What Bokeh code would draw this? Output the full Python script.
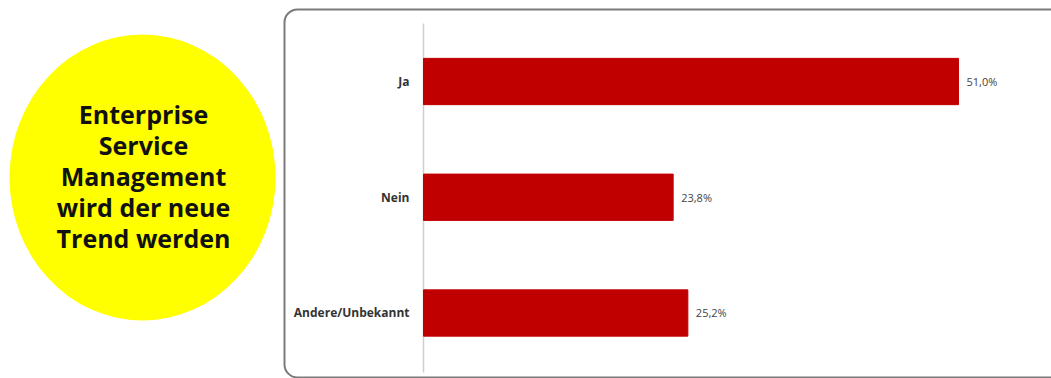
from bokeh.plotting import figure
from bokeh.layouts import row
from bokeh.models import Range1d, BoxAnnotation, ColumnDataSource
from bokeh.core.properties import value
from bokeh.embed import file_html
from bokeh.resources import INLINE

# ---- data ----
categories = ["Ja", "Nein", "Andere/Unbekannt"]
shares = [51.0, 23.8, 25.2]
value_labels = [f"{v:.1f}".replace(".", ",") + "%" for v in shares]
title_lines = ["Enterprise", "Service", "Management", "wird der neue", "Trend werden"]

H = 378
LW, RW = 282, 769

# ---- left panel: yellow ellipse with statement ----
left = figure(width=LW, height=H, output_backend="svg", toolbar_location=None,
              x_range=Range1d(0, LW), y_range=Range1d(H, 0),
              x_axis_location=None, y_axis_location=None, min_border=0)
left.outline_line_color = None
left.grid.visible = False
left.ellipse(x=[142], y=[177], width=[266], height=[286], fill_color="#FFFF00",
             line_color=None)
ty = [113 + 31 * i for i in range(len(title_lines))]
left.text(x=[143] * len(title_lines), y=ty, text=title_lines,
          text_align="center", text_baseline="middle",
          text_font=value("Open Sans"), text_font_style="bold",
          text_font_size="25px", text_color="#111111")

# ---- right panel: bar chart ----
k = 10.49            # px per percent
x0px = 423 - LW      # where 0 % sits inside right figure
xr = Range1d(-x0px / k, (RW - x0px) / k)
yr = Range1d(-0.066, 3.2)
p = figure(width=RW, height=H, output_backend="svg", toolbar_location=None,
           x_range=xr, y_range=yr, x_axis_location=None, y_axis_location=None,
           min_border=0)
p.outline_line_color = None
p.grid.visible = False

n = len(categories)
ypos = [n - 0.5 - i for i in range(n)]
src = ColumnDataSource(dict(cat=categories, y=ypos, v=shares, lab=value_labels,
                            lx=[-14 / k] * n, vx=[s + 8 / k for s in shares]))

frame = BoxAnnotation(left=-x0px / k + 2 / k, right=80, top=3.2 - 9 / 115.75,
                      bottom=3.2 - 377 / 115.75, fill_alpha=0,
                      line_color="#7a7a7a", line_alpha=1.0, line_width=2,
                      border_radius=13)
p.add_layout(frame)

p.segment(x0=[0], x1=[0], y0=[3.2 - 23 / 115.75], y1=[3.2 - 372 / 115.75],
          line_color="#cfcfcf", line_width=1.5)

p.hbar(y="y", right="v", left=0, height=0.4, source=src,
       fill_color="#C00000", line_color="#C00000")

p.text(x="lx", y="y", text="cat", source=src, text_align="right",
       text_baseline="middle", text_font=value("Open Sans"),
       text_font_style="bold", text_font_size="12px", text_color="#333333")
p.text(x="vx", y="y", text="lab", source=src, text_align="left",
       text_baseline="middle", text_font=value("Open Sans"),
       text_font_size="11px", text_color="#444444")

layout = row(left, p, spacing=0)
open("out.html", "w").write(file_html(layout, INLINE))
